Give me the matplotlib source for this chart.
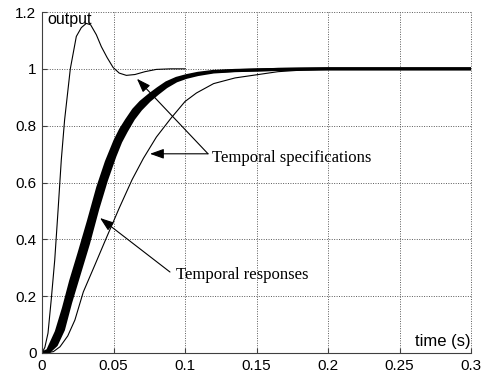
import matplotlib
matplotlib.use("Agg")
import matplotlib.pyplot as plt

# ---- data ----
# fast specification curve (overshoot)
t_fast = [0, 0.002, 0.0042, 0.0065, 0.0089, 0.0112, 0.0135, 0.0158, 0.0198, 0.024,
          0.0275, 0.031, 0.034, 0.038, 0.0415, 0.0455, 0.0497, 0.054, 0.059, 0.065,
          0.072, 0.08, 0.09, 0.1]
y_fast = [0, 0.02, 0.07, 0.19, 0.327, 0.50, 0.68, 0.82, 1.0, 1.114,
          1.145, 1.16, 1.155, 1.12, 1.078, 1.04, 1.005, 0.985, 0.977, 0.98,
          0.99, 0.998, 1.0, 1.0]

# slow specification curve
t_slow = [0, 0.003, 0.008, 0.0126, 0.018, 0.023, 0.0289, 0.037, 0.045, 0.054, 0.063,
          0.0709, 0.080, 0.090, 0.100, 0.108, 0.12, 0.135, 0.15, 0.165, 0.183, 0.2, 0.3]
y_slow = [0, 0, 0.005, 0.022, 0.06, 0.116, 0.215, 0.31, 0.405, 0.51, 0.61,
          0.685, 0.76, 0.825, 0.885, 0.915, 0.948, 0.968, 0.979, 0.99, 0.996, 0.999, 1.0]

# bundle of temporal responses (upper and lower edge of the band)
t_resp = [0, 0.004, 0.010, 0.015, 0.020, 0.026, 0.0325, 0.039, 0.045, 0.051, 0.055,
          0.059, 0.064, 0.069, 0.075, 0.081, 0.087, 0.094, 0.101, 0.109, 0.12, 0.135,
          0.15, 0.165, 0.18, 0.2, 0.3]
y_resp_hi = [0, 0.009, 0.075, 0.158, 0.253, 0.353, 0.465, 0.583, 0.673, 0.747, 0.787,
             0.819, 0.856, 0.883, 0.908, 0.9305, 0.951, 0.9665, 0.976, 0.9842, 0.9911, 0.9945,
             0.9963, 0.998, 0.999, 1.0, 1.0]
y_resp_lo = [0, 0, 0.028, 0.082, 0.177, 0.277, 0.385, 0.507, 0.607, 0.693, 0.743,
             0.781, 0.824, 0.857, 0.888, 0.9135, 0.937, 0.9575, 0.970, 0.9798, 0.9889, 0.9935,
             0.9957, 0.998, 0.999, 1.0, 1.0]

x_ticks = [0, 0.05, 0.1, 0.15, 0.2, 0.25, 0.3]
x_labels = ["0", "0.05", "0.1", "0.15", "0.2", "0.25", "0.3"]
y_ticks = [0, 0.2, 0.4, 0.6, 0.8, 1.0, 1.2]
y_labels = ["0", "0.2", "0.4", "0.6", "0.8", "1", "1.2"]

# ---- figure ----
fig = plt.figure(figsize=(4.91, 3.74), dpi=100)
ax = fig.add_axes([42 / 491, 21 / 374, 429 / 491, 341 / 374])

ax.plot(t_fast, y_fast, color="black", lw=0.8)
ax.plot(t_slow, y_slow, color="black", lw=0.8)
ax.fill_between(t_resp, y_resp_lo, y_resp_hi, color="black", lw=0)
ax.plot(t_resp, y_resp_hi, color="black", lw=2.2, solid_capstyle="butt")
ax.plot(t_resp, y_resp_lo, color="black", lw=2.2, solid_capstyle="butt")

ax.set_xlim(0, 0.3)
ax.set_ylim(0, 1.2)
ax.set_xticks(x_ticks)
ax.set_xticklabels(x_labels)
ax.set_yticks(y_ticks)
ax.set_yticklabels(y_labels)

for s in ["top", "right"]:
    ax.spines[s].set_visible(False)
for s in ["left", "bottom"]:
    ax.spines[s].set_color("0.25")
    ax.spines[s].set_linewidth(0.8)

ax.tick_params(direction="in", length=3.5, width=0.8, color="0.25",
               labelsize=11, pad=4)
for lab in ax.get_xticklabels() + ax.get_yticklabels():
    lab.set_fontfamily("Liberation Sans")

ax.grid(True, linestyle=(0, (1, 1.5)), color="0.35", lw=0.7)
for gl in ax.get_xgridlines() + ax.get_ygridlines():
    gl.set_clip_on(False)
ax.set_axisbelow(True)

ax.text(0.0035, 1.2, "output", ha="left", va="top", fontsize=11.5,
        family="Liberation Sans")
ax.text(0.2995, 0.015, "time (s)", ha="right", va="bottom", fontsize=12,
        family="Liberation Sans")

arrow = dict(arrowstyle="-|>,head_length=0.7,head_width=0.25", color="black",
             lw=0.8, shrinkA=0, shrinkB=0, mutation_scale=12)

ax.annotate("", xy=(0.0755, 0.701), xytext=(0.1161, 0.701), arrowprops=arrow)
ax.annotate("", xy=(0.0664, 0.965), xytext=(0.1161, 0.701), arrowprops=arrow)
ax.text(0.1189, 0.687, "Temporal specifications", ha="left", va="center",
        fontsize=12, family="Liberation Serif")

ax.annotate("", xy=(0.0406, 0.475), xytext=(0.0895, 0.285), arrowprops=arrow)
ax.text(0.0937, 0.275, "Temporal responses", ha="left", va="center",
        fontsize=12, family="Liberation Serif")

fig.savefig("out.png", dpi=100)
